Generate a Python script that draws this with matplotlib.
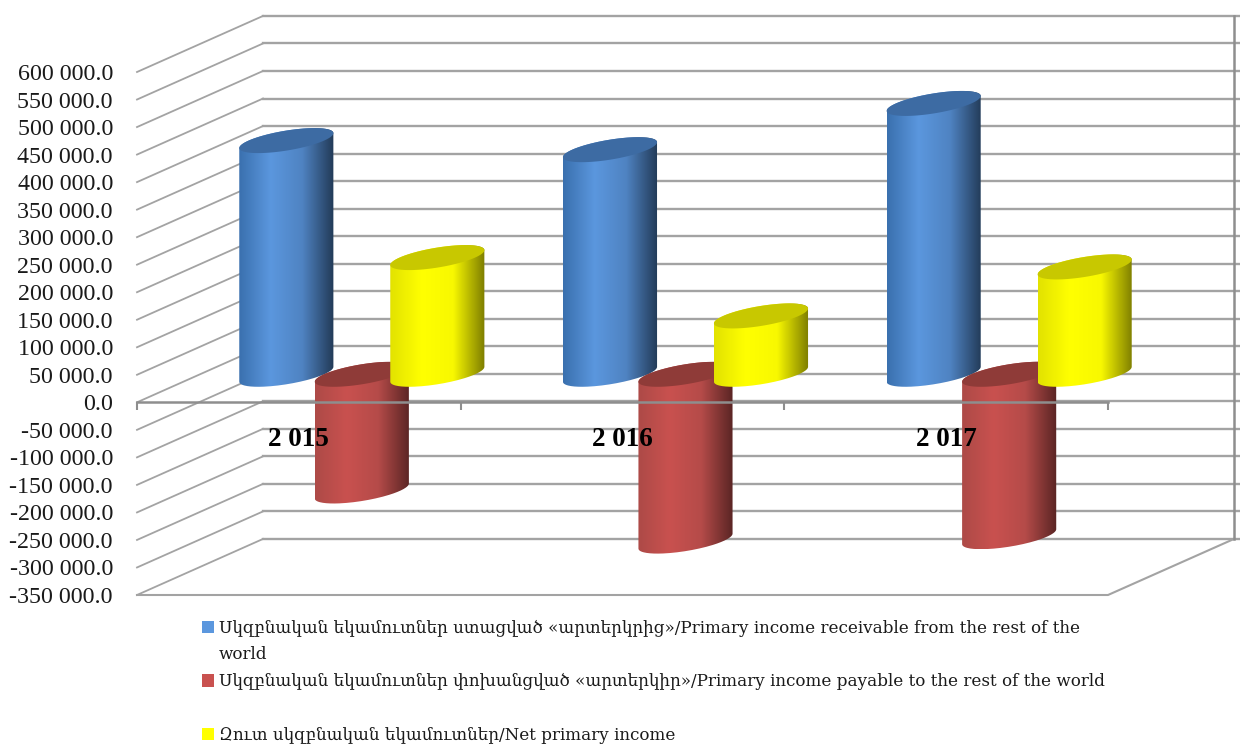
import matplotlib
matplotlib.use('Agg')
import matplotlib.pyplot as pyplot
from matplotlib.colors import LinearSegmentedColormap
from matplotlib.patches import Patch, PathPatch, Polygon
from matplotlib.path import Path
import numpy as np

years = ['2 015', '2 016', '2 017']
receivable = [424500, 408000, 492000]
payable = [-212000, -303000, -295000]
net = [212000, 106000, 195000]

value_ticks = list(range(-350000, 600001, 50000))

receivable_label = 'Սկզբնական եկամուտներ ստացված «արտերկրից»/Primary income receivable from the rest of the'
receivable_label2 = 'world'
payable_label = 'Սկզբնական եկամուտներ փոխանցված «արտերկիր»/Primary income payable to the rest of the world'
net_label = 'Զուտ սկզբնական եկամուտներ/Net primary income'

# fake 3d: how far the back wall is shifted from the front plane, in data units
depth_x = 126 / 323.67
depth_y = 56 / 27.5 * 50000
bar_width = 75.5 / 323.67
bar_depth = 0.446

GRID = '#a3a3a3'
AXIS = '#8e8e8e'

pyplot.rcParams['font.family'] = ['Liberation Serif', 'DejaVu Serif']


def cylinder(ax, center, value, stops, cap_color, zorder):
	w = bar_width / 2
	ex = depth_x * bar_depth / 2
	ey = depth_y * bar_depth / 2
	cx = center + depth_x / 2
	top = max(value, 0) + depth_y / 2
	bottom = min(value, 0) + depth_y / 2
	half = np.hypot(w, ex)
	t0 = np.arctan2(ex, w)

	# front side of the base and back side of the cap give the outline
	t = np.linspace(t0 - np.pi, t0, 80)
	base = np.column_stack([cx + w * np.cos(t) + ex * np.sin(t), bottom + ey * np.sin(t)])
	t = np.linspace(t0, t0 + np.pi, 80)
	back = np.column_stack([cx + w * np.cos(t) + ex * np.sin(t), top + ey * np.sin(t)])
	outline = np.vstack([base, back, base[:1]])
	body = PathPatch(Path(outline), facecolor='none', edgecolor='none', zorder=zorder)
	ax.add_patch(body)

	cmap = LinearSegmentedColormap.from_list('shade', stops)
	im = ax.imshow(np.linspace(0, 1, 256)[None, :], cmap=cmap, aspect='auto', interpolation='bilinear',
		extent=(cx - half, cx + half, bottom - ey, top + ey), zorder=zorder)
	im.set_clip_path(body)
	im.set_clip_box(ax.figure.bbox)

	t = np.linspace(0, 2 * np.pi, 160)
	cap = np.column_stack([cx + w * np.cos(t) + ex * np.sin(t), top + ey * np.sin(t)])
	ax.add_patch(Polygon(cap, closed=True, facecolor=cap_color, edgecolor='none', zorder=zorder + 0.01, clip_on=False))


def main(width=12.4, height=7.45, save_loc='out.png'):
	fig = pyplot.figure()
	fig.set_size_inches(width, height)
	ax = fig.add_axes([137 / 1240, 1 - 595 / 745, 971 / 1240, 523 / 745])
	ax.patch.set_visible(False)

	# walls and floor
	for v in value_ticks:
		ax.plot([0, depth_x], [v, v + depth_y], color=GRID, lw=1.3, zorder=0.5, clip_on=False)
		ax.plot([depth_x, 3 + depth_x + 0.02], [v + depth_y, v + depth_y], color=GRID, lw=1.7, zorder=0.5, clip_on=False)
	low, high = value_ticks[0], value_ticks[-1]
	ax.plot([3 + depth_x, 3 + depth_x], [low + depth_y, high + depth_y], color=AXIS, lw=1.8, zorder=0.6, clip_on=False)
	ax.plot([0, 3, 3 + depth_x], [low, low, low + depth_y], color=GRID, lw=1.5, zorder=0.5, clip_on=False)

	blue = ['#3a70ae', '#5b97de', '#4f83c2', '#223a57']
	red = ['#ad4a47', '#c9514f', '#b54b49', '#5a2524']
	yellow = ['#e2e200', '#ffff00', '#f8f800', '#7d7d00']
	for i in range(len(years)):
		center = i + 0.5
		cylinder(ax, center - bar_width, receivable[i], blue, '#3d6ba3', 1.0)
		cylinder(ax, center, payable[i], red, '#8f3b38', 1.1)
		cylinder(ax, center + bar_width, net[i], yellow, '#c8c800', 1.2)

	ax.set_xlim(0, 3)
	ax.set_ylim(low, high)
	ax.set_axisbelow(False)

	for side in ['left', 'right', 'top']:
		ax.spines[side].set_visible(False)
	ax.spines['bottom'].set_position(('data', 0))
	ax.spines['bottom'].set_color(AXIS)
	ax.spines['bottom'].set_linewidth(1.8)

	ax.set_yticks(value_ticks)
	ax.set_yticklabels([f'{v:,.1f}'.replace(',', ' ') for v in value_ticks], va='center_baseline')
	ax.tick_params(axis='y', length=0, pad=17.3, labelsize=17.3, labelcolor='#1a1a1a')

	ax.set_xticks(range(len(years) + 1))
	ax.set_xticklabels([])
	ax.tick_params(axis='x', which='major', length=5.5, width=1.5, color=AXIS)
	ax.set_xticks([i + 0.5 for i in range(len(years))], minor=True)
	ax.set_xticklabels(years, minor=True, fontweight='bold')
	ax.tick_params(axis='x', which='minor', length=0, pad=17.5, labelsize=19.5, labelcolor='black')

	handles = [Patch(facecolor='#5b97de'), Patch(facecolor='none'), Patch(facecolor='#c9514f'),
		Patch(facecolor='none'), Patch(facecolor='#ffff00')]
	labels = [receivable_label, receivable_label2, payable_label, ' ', net_label]
	ax.legend(handles, labels, loc='upper left', bbox_to_anchor=(202 / 1240, 1 - 619.5 / 745),
		bbox_transform=fig.transFigure, frameon=False, borderpad=0, borderaxespad=0,
		prop={'family': 'DejaVu Serif', 'size': 12.1},
		handlelength=0.7, handleheight=0.75, handletextpad=0.3, labelspacing=0.58, labelcolor='#1a1a1a')

	fig.savefig(save_loc, dpi=100)


main()
